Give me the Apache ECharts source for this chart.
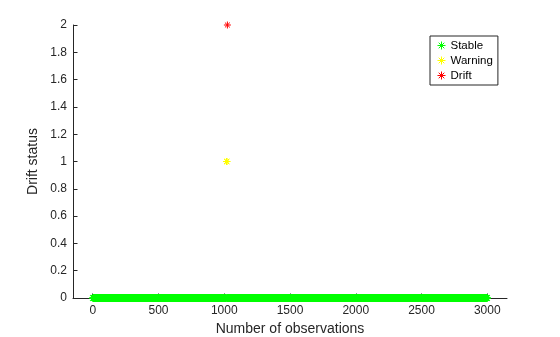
<!DOCTYPE html>
<html>
<head>
<meta charset="utf-8">
<script src="https://cdn.jsdelivr.net/npm/echarts@6/dist/echarts.min.js"></script>
<style>html,body{margin:0;padding:0;background:#fff}#c{width:560px;height:337px}</style>
</head>
<body>
<div id="c"></div>
<script>
// ---- data ----
const stableRanges = [[1, 1016], [1022, 1023], [1025, 3000]]; // observations labelled stable (value 0)
const stableValue = 0;
const warningObs = [1017, 1019, 1021];
const warningValues = [1, 1, 1];
const driftObs = [1024];
const driftValues = [2];
const xTicks = [0, 500, 1000, 1500, 2000, 2500, 3000];
const yTicks = [0, 0.2, 0.4, 0.6, 0.8, 1, 1.2, 1.4, 1.6, 1.8, 2];
const seriesNames = ['Stable', 'Warning', 'Drift'];
const seriesColors = ['#00ff00', '#ffff00', '#ff0000'];

const stableData = [];
stableRanges.forEach(([a, b]) => { for (let i = a; i <= b; i++) stableData.push([i, stableValue]); });
const warningData = warningObs.map((x, i) => [x, warningValues[i]]);
const driftData = driftObs.map((x, i) => [x, driftValues[i]]);

const star = 'path://M0,-10L0,10M-10,0L10,0M-7,-7L7,7M-7,7L7,-7';
const font = 'Liberation Sans, Arial, sans-serif';
const axisColor = '#262626';

function mk(name, data, color) {
  return {
    name, type: 'scatter', data, symbol: star, symbolSize: 7,
    itemStyle: { color: 'none', borderColor: color, borderWidth: 1, opacity: 1 },
    emphasis: { disabled: true }, animation: false, large: false
  };
}

const chart = echarts.init(document.getElementById('c'));
chart.setOption({
  animation: false,
  backgroundColor: '#fff',
  grid: { left: 73, right: 53, top: 25, bottom: 39, containLabel: false, outerBoundsMode: 'none' },
  xAxis: {
    type: 'value', min: -150, max: 3150,
    name: 'Number of observations', nameLocation: 'middle', nameGap: 24, nameMoveOverlap: false,
    nameTextStyle: { fontFamily: font, fontSize: 14, color: axisColor },
    axisLine: { show: true, onZero: false, lineStyle: { color: axisColor, width: 1 } },
    axisTick: { show: true, inside: true, length: 4.5, customValues: xTicks, lineStyle: { color: axisColor } },
    axisLabel: { customValues: xTicks, formatter: v => String(v), fontFamily: font, fontSize: 12, color: axisColor, margin: 6.5 },
    splitLine: { show: false }
  },
  yAxis: {
    type: 'value', min: 0, max: 2,
    name: 'Drift status', nameLocation: 'middle', nameGap: 33, nameRotate: 90, nameMoveOverlap: false,
    nameTextStyle: { fontFamily: font, fontSize: 14, color: axisColor },
    axisLine: { show: true, onZero: false, lineStyle: { color: axisColor, width: 1 } },
    axisTick: { show: true, inside: true, length: 4.5, customValues: yTicks, lineStyle: { color: axisColor } },
    axisLabel: { customValues: yTicks, formatter: v => String(v), fontFamily: font, fontSize: 12, color: axisColor, margin: 6 },
    splitLine: { show: false }
  },
  legend: {
    orient: 'vertical', left: 430, top: 36,
    data: seriesNames,
    padding: [3, 5, 3, 5],
    itemWidth: 8, itemHeight: 8, itemGap: 2,
    borderColor: '#262626', borderWidth: 1, borderRadius: 0,
    backgroundColor: '#fff',
    itemStyle: { color: 'none', borderWidth: 1 },
    textStyle: { fontFamily: font, fontSize: 11.5, color: '#000', lineHeight: 12, padding: [0, 0, 0, 0] },
    selectedMode: false
  },
  series: [
    mk(seriesNames[0], stableData, seriesColors[0]),
    mk(seriesNames[1], warningData, seriesColors[1]),
    mk(seriesNames[2], driftData, seriesColors[2])
  ]
});
</script>
</body>
</html>
